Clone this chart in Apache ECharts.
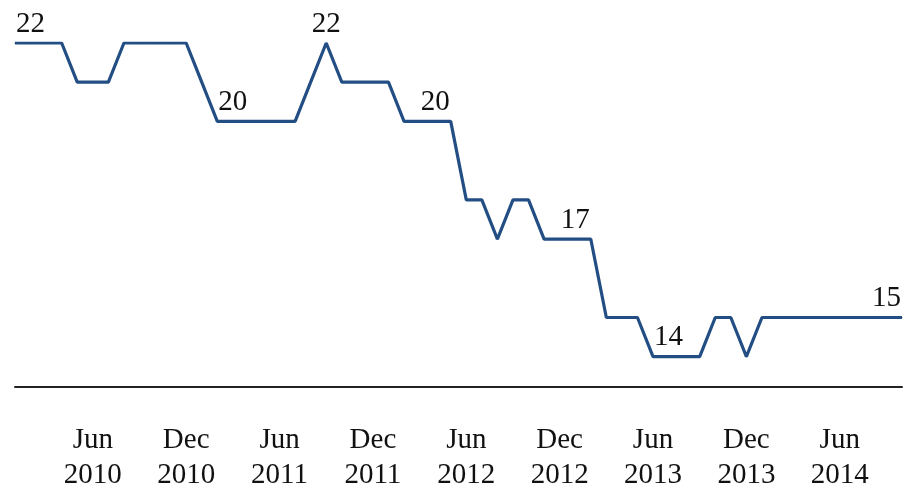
<!DOCTYPE html>
<html>
<head>
<meta charset="utf-8">
<script src="https://cdn.jsdelivr.net/npm/echarts@6/dist/echarts.min.js"></script>
<style>html,body{margin:0;padding:0;background:#fff;}#c{width:904px;height:489px;}</style>
</head>
<body>
<div id="c"></div>
<script>
const months = ['Jan','Feb','Mar','Apr','May','Jun','Jul','Aug','Sep','Oct','Nov','Dec'];
const categories = [];
for (let y = 2010; y <= 2014; y++) {
  for (let m = 0; m < 12; m++) {
    if (y === 2014 && m > 9) break;
    categories.push(months[m] + ' ' + y);
  }
}
const values = [
  22,22,22,22,21,21,21,22,22,22,22,22,
  21,20,20,20,20,20,20,21,22,21,21,21,
  21,20,20,20,20,18,18,17,18,18,17,17,
  17,17,15,15,15,14,14,14,14,15,15,14,
  15,15,15,15,15,15,15,15,15,15
];
const labelIndices = [1,14,20,27,36,42,56];

const chart = echarts.init(document.getElementById('c'));
chart.setOption({
  animation: false,
  grid: {left: 15, right: 2, top: 43, bottom: 102.5, containLabel: false, outerBoundsMode: 'none'},
  xAxis: {
    type: 'category',
    data: categories,
    boundaryGap: false,
    axisLine: {lineStyle: {color: '#222', width: 2}},
    axisTick: {show: false},
    axisLabel: {
      interval: (i) => i % 6 === 5,
      formatter: (v) => v.replace(' ', '\n'),
      fontFamily: 'Liberation Serif',
      fontSize: 29,
      lineHeight: 35,
      color: '#111',
      margin: 36
    },
    splitLine: {show: false}
  },
  yAxis: {
    type: 'value',
    min: 13.24,
    max: 22,
    show: false
  },
  series: [{
    type: 'line',
    data: values,
    symbol: 'circle',
    symbolSize: 1,
    itemStyle: {color: '#234e84'},
    lineStyle: {color: '#234e84', width: 3.2},
    label: {
      show: true,
      position: 'top',
      distance: 4,
      fontFamily: 'Liberation Serif',
      fontSize: 29,
      color: '#111',
      formatter: (p) => labelIndices.includes(p.dataIndex) ? String(p.value) : ''
    },
    emphasis: {disabled: true}
  }]
});
</script>
</body>
</html>
